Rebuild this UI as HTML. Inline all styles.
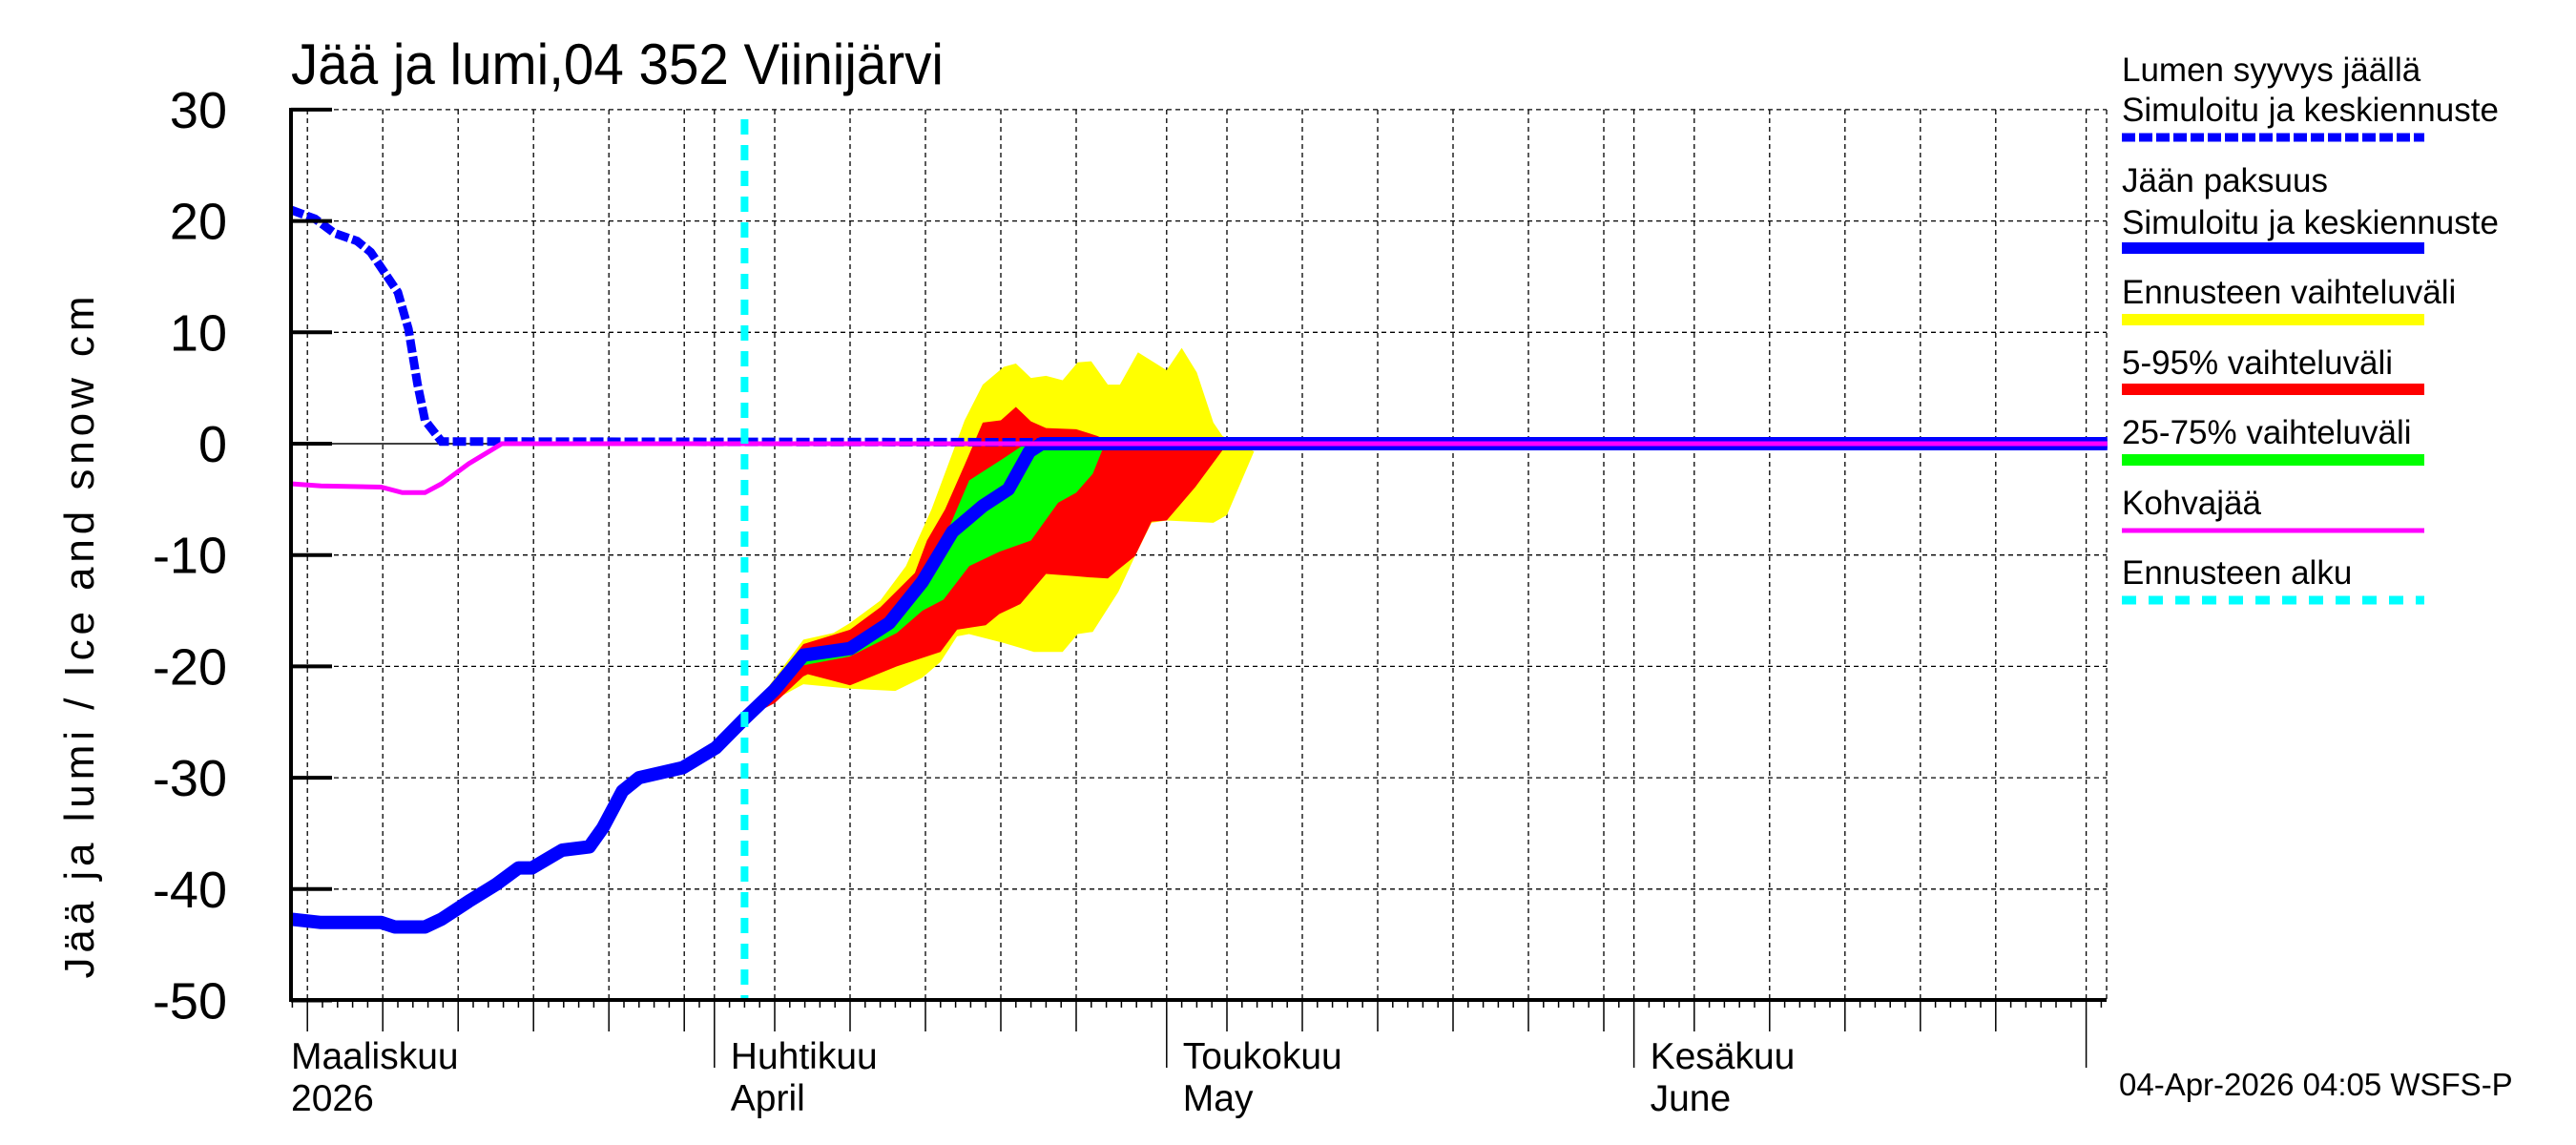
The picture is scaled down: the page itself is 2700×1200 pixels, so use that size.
<!DOCTYPE html>
<html><head><meta charset="utf-8"><style>
html,body{margin:0;padding:0;background:#fff}
svg{display:block}
text{font-family:"Liberation Sans Narrow","Liberation Sans",sans-serif;fill:#000}
.lg{font-family:"Liberation Sans",sans-serif;font-size:35px}
</style></head><body>
<svg id="chart" width="2700" height="1200" viewBox="0 0 2700 1200" xmlns="http://www.w3.org/2000/svg">
<rect width="2700" height="1200" fill="#fff"/>
<g id="grid"></g>
<g id="bands"></g>
<g id="lines"></g>
<g id="axes"></g>
<text x="305" y="88" font-size="60" textLength="684" lengthAdjust="spacingAndGlyphs">Jää ja lumi,04 352 Viinijärvi</text>
<text transform="translate(98,668) rotate(-90)" text-anchor="middle" font-size="44" style="font-family:'Liberation Sans',sans-serif" textLength="715">Jää ja lumi / Ice and snow    cm</text>
<g>
<text class="lg" x="2224" y="85">Lumen syyvys jäällä</text>
<text class="lg" x="2224" y="127">Simuloitu ja keskiennuste</text>
<line x1="2224" y1="144" x2="2541" y2="144" stroke="#0000ff" stroke-width="9" stroke-dasharray="14 4"/>
<text class="lg" x="2224" y="201">Jään paksuus</text>
<text class="lg" x="2224" y="245">Simuloitu ja keskiennuste</text>
<line x1="2224" y1="260" x2="2541" y2="260" stroke="#0000ff" stroke-width="12"/>
<text class="lg" x="2224" y="318">Ennusteen vaihteluväli</text>
<line x1="2224" y1="335" x2="2541" y2="335" stroke="#ffff00" stroke-width="12"/>
<text class="lg" x="2224" y="392">5-95% vaihteluväli</text>
<line x1="2224" y1="408" x2="2541" y2="408" stroke="#ff0000" stroke-width="12"/>
<text class="lg" x="2224" y="465">25-75% vaihteluväli</text>
<line x1="2224" y1="482" x2="2541" y2="482" stroke="#00ff00" stroke-width="12"/>
<text class="lg" x="2224" y="539">Kohvajää</text>
<line x1="2224" y1="556" x2="2541" y2="556" stroke="#ff00ff" stroke-width="5"/>
<text class="lg" x="2224" y="612">Ennusteen alku</text>
<line x1="2224" y1="629" x2="2541" y2="629" stroke="#00ffff" stroke-width="9" stroke-dasharray="15 13"/>
</g>
<text x="2221" y="1148" font-size="33" style="font-family:'Liberation Sans',sans-serif">04-Apr-2026 04:05 WSFS-P</text>
</svg>
<script>
// day index: 0 = 1 March 2026
const yTicks = [30,20,10,0,-10,-20,-30,-40,-50];
const monthLabels = [["Maaliskuu","2026"],["Huhtikuu","April"],["Toukokuu","May"],["Kesäkuu","June"]];
const monthStartDays = [0,31,61,92,122];
const forecastStartDay = 33;
const endDay = 123.4;
const startDay = 2.9;

const snowDays = [2.9,4.5,5.8,7.3,8.2,9.1,10.0,10.7,11.3,11.8,12.9,123.4];
const snowVals = [21,20.2,18.9,18.2,17.2,15.4,13.6,10.3,5.4,2.1,0.2,0];

const kohvaDays = [2.9,4.9,8.9,10.3,11.8,12.9,14.7,16.9,123.4];
const kohvaVals = [-3.6,-3.8,-3.9,-4.4,-4.4,-3.6,-1.8,0,0];

const iceDays = [2.9,4.9,8.9,9.8,11.8,12.9,14.7,16.5,18.0,18.9,20.9,22.7,23.6,24.9,26.0,28.9,31.1,33.0,35.0,36.9,40.0,42.6,44.8,46.8,48.8,50.5,51.9,52.7,123.4];
const iceVals = [-42.7,-43,-43,-43.4,-43.4,-42.7,-41.1,-39.6,-38.1,-38.1,-36.5,-36.2,-34.5,-31.2,-30,-29.1,-27.3,-24.7,-22.1,-19,-18.4,-16.1,-12.4,-7.9,-5.6,-4.1,-0.7,0,0];

const yellowUpDays = [33,36.9,38.9,40,42,43.7,45.4,47.6,48.8,50.2,51,52,53,54.1,55.1,56,57.1,57.9,59.1,61,62,63,64.1,64.7,66.8];
const yellowUpVals = [-24.7,-17.6,-17,-16.1,-14.1,-11,-5.9,2.1,5.3,6.9,7.2,5.9,6.1,5.7,7.3,7.4,5.3,5.3,8.2,6.6,8.6,6.4,1.9,0.7,-0.7];
const yellowLoDays = [33,35,36.9,40,43,44.8,46,47.1,47.9,50.2,52.2,54.1,55.1,56.1,57.8,58.9,60,61,64.1,65,66.8];
const yellowLoVals = [-24.7,-23,-21.6,-22,-22.2,-21,-19.6,-17.3,-17.1,-17.9,-18.7,-18.7,-17.1,-16.9,-13.3,-10.1,-7.1,-6.9,-7.1,-6.4,-0.7];

const redUpDays = [33,36.9,40,42,44.3,45.1,46.3,47.6,48.8,50,51,52,53,55,56.4,57.5,61.8,64.7];
const redUpVals = [-24.7,-18,-16.7,-14.7,-11.6,-8.7,-5.9,-1.9,1.9,2.1,3.3,2,1.4,1.3,0.7,0,0,-0.6];
const redLoDays = [33,35,36.9,37.2,38.9,40,43.1,46,47.1,49,49.9,51.3,53,55,55.8,57.1,57.8,58.9,60,61,62.9,64.7];
const redLoVals = [-24.7,-23.3,-20.9,-20.7,-21.3,-21.7,-20,-18.7,-16.7,-16.3,-15.3,-14.4,-11.7,-11.9,-12,-12.1,-11.3,-10.1,-7,-6.9,-3.9,-0.6];

const greenUpDays = [36.9,40,42,44.8,46.2,47.9,50.2,51.3,51.7,56.9];
const greenUpVals = [-18.7,-17.9,-16.1,-12.4,-8.7,-3.3,-1.3,-0.3,0,0];
const greenLoDays = [36.9,40,43.1,44.8,46.2,47.9,49.9,52,53.8,55,56.1,56.9];
const greenLoVals = [-19.9,-19.1,-17,-15,-14,-11,-9.7,-8.7,-5.3,-4.4,-2.7,0];

const X0 = 259, PXD = 15.8, Y0 = 465, PXV = 11.67;
const PL = 305, PR = 2208, PT = 115, PB = 1048;
const xs = d => X0 + d * PXD;
const ys = v => Y0 - v * PXV;
const NS = "http://www.w3.org/2000/svg";
function mk(tag, parent, attrs) {
  const e = document.createElementNS(NS, tag);
  for (const k in attrs) e.setAttribute(k, attrs[k]);
  parent.appendChild(e);
  return e;
}
const grid = document.getElementById('grid');
const bands = document.getElementById('bands');
const lines = document.getElementById('lines');
const axes = document.getElementById('axes');

yTicks.forEach(v => {
  if (v === -50) return;
  const l = mk('line', grid, {x1: PL, x2: PR, y1: ys(v), y2: ys(v), stroke: '#000', 'stroke-width': v === 0 ? 1.5 : 1.3, 'stroke-dasharray': v === 0 ? 'none' : '5 4'});
  
  
});
const gridDays = [];
for (let m = 0; m < 4; m++) {
  const s = monthStartDays[m], len = monthStartDays[m+1] - s;
  for (let k = 5; k < len; k += 5) gridDays.push(s + k - 1);
  if (m > 0) gridDays.push(s);
}
gridDays.push(122);
gridDays.forEach(d => {
  const x = xs(d);
  if (x <= PL || x > PR) return;
  const l = mk('line', grid, {x1: x, x2: x, y1: PT, y2: PB, stroke: '#000', 'stroke-width': 1.3, 'stroke-dasharray': '5 4'});
  
  
});
const rb = mk('line', grid, {x1: PR, x2: PR, y1: PT, y2: PB, stroke: '#000', 'stroke-width': 1.3, 'stroke-dasharray': '5 4'});



function band(upD, upV, loD, loV, color, name) {
  const pts = [];
  upD.forEach((d, i) => pts.push(xs(d) + ',' + ys(upV[i])));
  for (let i = loD.length - 1; i >= 0; i--) pts.push(xs(loD[i]) + ',' + ys(loV[i]));
  const p = mk('polygon', bands, {points: pts.join(' '), fill: color});
  
  
}
band(yellowUpDays, yellowUpVals, yellowLoDays, yellowLoVals, '#ffff00', 'band-min-max');
band(redUpDays, redUpVals, redLoDays, redLoVals, '#ff0000', 'band-5-95');
band(greenUpDays, greenUpVals, greenLoDays, greenLoVals, '#00ff00', 'band-25-75');

function path(ds, vs) { return ds.map((d, i) => (i ? 'L' : 'M') + xs(d).toFixed(1) + ' ' + ys(vs[i]).toFixed(1)).join(' '); }
const ice = mk('path', lines, {d: path(iceDays, iceVals), fill: 'none', stroke: '#0000ff', 'stroke-width': 14, 'stroke-linejoin': 'round'});


const snow = mk('path', lines, {d: path(snowDays, snowVals), fill: 'none', stroke: '#0000ff', 'stroke-width': 9, 'stroke-dasharray': '14 4'});


const kohva = mk('path', lines, {d: path(kohvaDays, kohvaVals), fill: 'none', stroke: '#ff00ff', 'stroke-width': 5});


const fc = mk('line', lines, {x1: xs(forecastStartDay), x2: xs(forecastStartDay), y1: 125, y2: PB, stroke: '#00ffff', 'stroke-width': 8, 'stroke-dasharray': '16 11'});



const la = mk('line', axes, {x1: PL, x2: PL, y1: PT - 2, y2: PB + 2, stroke: '#000', 'stroke-width': 4});


const ba = mk('line', axes, {x1: PL - 2, x2: PR, y1: PB, y2: PB, stroke: '#000', 'stroke-width': 4});


yTicks.forEach(v => {
  const t = mk('line', axes, {x1: PL, x2: PL + 43, y1: ys(v), y2: ys(v), stroke: '#000', 'stroke-width': 4});
  
  
  const tx = mk('text', axes, {x: 238, y: ys(v) + 19, 'font-size': 54, 'text-anchor': 'end'});
  tx.textContent = String(v);
  
  
});
for (let d = Math.ceil(startDay); xs(d) <= PR; d++) {
  let len = 8;
  if (gridDays.includes(d)) len = 33;
  if (monthStartDays.includes(d)) len = 71;
  const t = mk('line', axes, {x1: xs(d), x2: xs(d), y1: PB, y2: PB + len, stroke: '#000', 'stroke-width': 1.5});
  
  
}
monthLabels.forEach((lab, i) => {
  const x = i === 0 ? PL : xs(monthStartDays[i]) + 17;
  const a = mk('text', axes, {x: x, y: 1120, 'font-size': 39});
  a.textContent = lab[0];
  
  
  const b = mk('text', axes, {x: x, y: 1164, 'font-size': 39});
  b.textContent = lab[1];
  
  
});
</script>
</body></html>
